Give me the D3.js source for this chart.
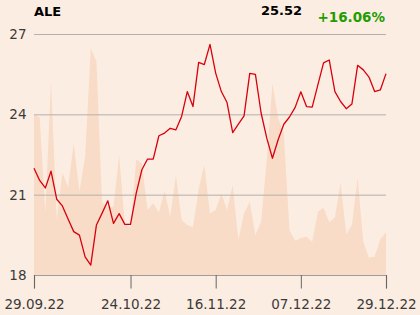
<!DOCTYPE html>
<html>
<head>
<meta charset="utf-8">
<script src="https://cdn.jsdelivr.net/npm/d3@7"></script>
<style>
  html, body { margin: 0; padding: 0; background: #fcede2; }
  svg { display: block; font-family: "DejaVu Sans", sans-serif; }
</style>
</head>
<body>
<svg id="chart" width="420" height="315"></svg>
<script>
// trading days, dd.mm.yy
const dates = [
  "29.09.22", "30.09.22",
  "03.10.22", "04.10.22", "05.10.22", "06.10.22", "07.10.22", "10.10.22", "11.10.22", "12.10.22",
  "13.10.22", "14.10.22", "17.10.22", "18.10.22", "19.10.22", "20.10.22", "21.10.22", "24.10.22",
  "25.10.22", "26.10.22", "27.10.22", "28.10.22", "31.10.22",
  "02.11.22", "03.11.22", "04.11.22", "07.11.22", "08.11.22", "09.11.22", "10.11.22", "14.11.22",
  "15.11.22", "16.11.22", "17.11.22", "18.11.22", "21.11.22", "22.11.22", "23.11.22", "24.11.22",
  "25.11.22", "28.11.22", "29.11.22", "30.11.22",
  "01.12.22", "02.12.22", "05.12.22", "06.12.22", "07.12.22", "08.12.22", "09.12.22", "12.12.22",
  "13.12.22", "14.12.22", "15.12.22", "16.12.22", "19.12.22", "20.12.22", "21.12.22", "22.12.22",
  "23.12.22", "27.12.22", "28.12.22", "29.12.22"
];

const prices = [
  21.99, 21.53, 21.25, 21.88, 20.83, 20.58, 20.09, 19.62, 19.49, 18.68,
  18.37, 19.87, 20.31, 20.77, 19.93, 20.29, 19.89, 19.89, 21.05, 21.93,
  22.33, 22.33, 23.20, 23.30, 23.48, 23.42, 23.92, 24.85, 24.29, 25.94,
  25.86, 26.61, 25.54, 24.85, 24.44, 23.32, 23.63, 23.94, 25.53, 25.49,
  24.05, 23.11, 22.36, 23.05, 23.63, 23.90, 24.26, 24.84, 24.29, 24.27,
  25.10, 25.92, 26.03, 24.85, 24.48, 24.21, 24.39, 25.83, 25.66, 25.39,
  24.85, 24.91, 25.52
];

// relative volume (percent of the plot height)
const volumes = [
  66.7, 65.4, 25.9, 80.6, 23.1, 42.4, 36.6, 54.6, 34.6, 49.1,
  94.1, 88.5, 29.8, 28.3, 28.3, 49.8, 21.2, 19.5, 48.0, 46.3,
  27.0, 29.8, 25.9, 35.0, 24.2, 41.5, 22.8, 20.7, 19.8, 35.6,
  45.6, 25.5, 27.0, 33.9, 27.0, 37.3, 14.5, 25.6, 30.4, 16.6,
  22.1, 47.7, 79.5, 65.1, 58.8, 18.7, 14.2, 15.4, 15.9, 13.8,
  26.3, 27.9, 21.9, 23.9, 38.3, 17.0, 20.7, 40.4, 13.8, 7.2,
  7.6, 14.8, 17.7
];

const xTicks = ["29.09.22", "24.10.22", "16.11.22", "07.12.22", "29.12.22"];
const yTicks = [18, 21, 24, 27];

const ticker = "ALE";
const lastPrice = "25.52";
const change = "+16.06%";

const svg = d3.select("#chart");
const plotLeft = 34, plotRight = 386, plotTop = 34, plotBottom = 275;

const x = d3.scalePoint().domain(dates).range([plotLeft, plotRight]);
const y = d3.scaleLinear().domain([18, 27]).range([plotBottom, plotTop]);
const v = d3.scaleLinear().domain([0, 100]).range([plotBottom, plotTop]);

// volume area
const area = d3.area()
    .x((d, i) => x(dates[i]))
    .y0(plotBottom)
    .y1(d => v(d));

svg.append("path")
    .datum(volumes)
    .attr("d", area)
    .attr("fill", "#f8dcc7");

// grid
svg.append("g")
    .selectAll("line")
    .data(yTicks.slice(1))
    .join("line")
    .attr("x1", plotLeft)
    .attr("x2", plotRight)
    .attr("y1", d => y(d) + 0.5)
    .attr("y2", d => y(d) + 0.5)
    .attr("stroke", "#b4b0ac")
    .attr("stroke-width", 1);

// y labels
svg.append("g")
    .selectAll("text")
    .data(yTicks)
    .join("text")
    .attr("x", 26.5)
    .attr("y", d => y(d))
    .attr("dy", "0.36em")
    .attr("text-anchor", "end")
    .attr("font-size", 13.5)
    .attr("fill", "#3a3a3a")
    .text(d => d);

// x axis
const xAxis = svg.append("g")
    .attr("transform", "translate(0," + plotBottom + ")")
    .call(d3.axisBottom(x).tickValues(xTicks).tickSize(13.5).tickPadding(11));

xAxis.select(".domain").attr("stroke", "#a09c98").attr("stroke-width", 1.2);
xAxis.selectAll(".tick line").attr("stroke", "#666");
xAxis.selectAll(".tick text")
    .attr("font-size", 13.5)
    .attr("font-family", "DejaVu Sans, sans-serif")
    .attr("fill", "#3a3a3a");

// price line
const line = d3.line()
    .x((d, i) => x(dates[i]))
    .y(d => y(d));

svg.append("path")
    .datum(prices)
    .attr("d", line)
    .attr("fill", "none")
    .attr("stroke", "#d9000d")
    .attr("stroke-width", 1.3)
    .attr("stroke-linejoin", "round");

// header
svg.append("text")
    .attr("x", 34)
    .attr("y", 16)
    .attr("font-size", 13)
    .attr("font-weight", "bold")
    .attr("fill", "#000")
    .text(ticker);

svg.append("text")
    .attr("x", 302)
    .attr("y", 14.5)
    .attr("text-anchor", "end")
    .attr("font-size", 13)
    .attr("font-weight", "bold")
    .attr("fill", "#000")
    .text(lastPrice);

svg.append("text")
    .attr("x", 385)
    .attr("y", 21.5)
    .attr("text-anchor", "end")
    .attr("font-size", 13.5)
    .attr("font-weight", "bold")
    .attr("fill", "#1e9e00")
    .text(change);
</script>
</body>
</html>
